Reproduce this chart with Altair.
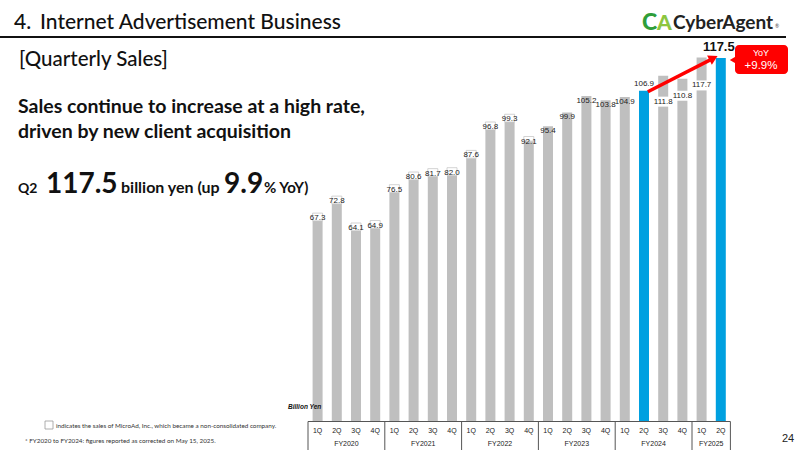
import altair as alt
import pandas as pd

# ---- data ----
quarters = ["1Q", "2Q", "3Q", "4Q", "1Q", "2Q", "3Q", "4Q", "1Q", "2Q", "3Q", "4Q",
            "1Q", "2Q", "3Q", "4Q", "1Q", "2Q", "3Q", "4Q", "1Q", "2Q"]
fiscal = ["FY2020"] * 4 + ["FY2021"] * 4 + ["FY2022"] * 4 + ["FY2023"] * 4 + ["FY2024"] * 4 + ["FY2025"] * 2
sales = [67.3, 72.8, 64.1, 64.9, 76.5, 80.6, 81.7, 82.0, 87.6, 96.8, 99.3, 92.1,
         95.4, 99.9, 105.2, 103.8, 104.9, 106.9, 111.8, 110.8, 117.7, 117.5]
microad = [2.5, 2.5, 2.5, 2.5, 2.5, 2.5, 2.5, 2.5, 2.5, 2.5, 2.5, 1.5,
           0, 0, 0, 0, 0, 0, 0, 0, 0, 0]
highlight = [False] * 17 + [True] + [False] * 3 + [True]

FONT = "Lato"
AX_FONT = "Liberation Sans"
GRAY = "#bfbfbf"
BLUE = "#00a0e0"
RED = "#ff0000"

n = len(sales)
df = pd.DataFrame({
    "i": list(range(n)),
    "q": quarters,
    "fy": fiscal,
    "v": sales,
    "m": microad,
    "hl": highlight,
})
df["base"] = df["v"] - df["m"]
df["lab"] = df["v"].map(lambda x: f"{x:.1f}")

xs = alt.Scale(domain=[-0.5, n - 0.5], range=[308, 730.4], nice=False, zero=False, padding=0)
ys = alt.Scale(domain=[0, 120], range=[421, 421 - 120 * 3.089], nice=False, padding=0)
X = alt.X("i:Q", scale=xs, axis=None)
Y = lambda f: alt.Y(f, scale=ys, axis=None)

# bars
bars = alt.Chart(df).mark_bar(size=10).encode(
    x=X,
    y=Y("base:Q"),
    y2=alt.datum(0),
    color=alt.condition("datum.hl", alt.value(BLUE), alt.value(GRAY)),
)
micro = alt.Chart(df[df["m"] > 0]).mark_bar(size=10, fill="white", stroke="#c8c8c8", strokeWidth=0.8).encode(
    x=X, y=Y("base:Q"), y2="v:Q"
)

# value labels
special = {18: 26, 19: 17, 20: 28}
normal_df = df[(~df["i"].isin(list(special.keys()))) & (~df["hl"])]
lab_normal = alt.Chart(normal_df).mark_text(font=AX_FONT, fontSize=8, color="#222", baseline="middle", dy=5).encode(
    x=X, y=Y("v:Q"), text="lab:N"
)
lab_blue = alt.Chart(df[df["i"] == 17]).mark_text(font=AX_FONT, fontSize=8, color="#222", baseline="middle", dy=-7).encode(
    x=X, y=Y("v:Q"), text="lab:N"
)
spec_layers = []
for k, off in special.items():
    d = df[df["i"] == k]
    spec_layers.append(alt.Chart(d).mark_rect(color="white", width=20, height=10, yOffset=off).encode(x=X, y=Y("v:Q")))
    spec_layers.append(alt.Chart(d).mark_text(font=AX_FONT, fontSize=8, color="#222", baseline="middle", dy=off).encode(
        x=X, y=Y("v:Q"), text="lab:N"))
lab_big = alt.Chart(df[df["i"] == n - 1]).mark_text(font=AX_FONT, fontSize=13, fontWeight="bold", color="#111", baseline="middle", dy=-11, dx=-2).encode(
    x=X, y=Y("v:Q"), text="lab:N"
)

# arrow
arr = pd.DataFrame({"x": [17.2], "y": [106.6], "x2": [20.45], "y2": [116.9]})
arrow_line = alt.Chart(arr).mark_rule(color=RED, strokeWidth=3.5).encode(
    x=alt.X("x:Q", scale=xs, axis=None), y=Y("y:Q"), x2="x2:Q", y2="y2:Q"
)
head = pd.DataFrame({"x": [20.62], "y": [117.5]})
arrow_head = alt.Chart(head).mark_point(shape="triangle-right", filled=True, color=RED, size=110, angle=333, opacity=1).encode(
    x=alt.X("x:Q", scale=xs, axis=None), y=Y("y:Q")
)

# x axis: line, quarter labels, FY labels, separators
axis_line = alt.Chart(pd.DataFrame({"a": [-0.5], "b": [n - 0.5]})).mark_rule(color="#555", strokeWidth=1).encode(
    x=alt.X("a:Q", scale=xs, axis=None), x2="b:Q", y=alt.value(421.5)
)
q_labels = alt.Chart(df).mark_text(font=AX_FONT, fontSize=7, color="#222", baseline="middle").encode(
    x=X, y=alt.value(431), text="q:N"
)
fy_df = df.groupby("fy", as_index=False).agg(c=("i", "mean"), s=("i", "min"), e=("i", "max"))
fy_labels = alt.Chart(fy_df).mark_text(font=AX_FONT, fontSize=7, color="#222", baseline="middle").encode(
    x=alt.X("c:Q", scale=xs, axis=None), y=alt.value(444), text="fy:N"
)
seps = pd.DataFrame({"p": [-0.5] + list(fy_df["e"] + 0.5)})
sep_rules = alt.Chart(seps).mark_rule(color="#555", strokeWidth=1).encode(
    x=alt.X("p:Q", scale=xs, axis=None), y=alt.value(421.5), y2=alt.value(451)
)


def txt(t, x, y, size, weight="normal", color="#111", font=FONT, align="left", style="normal"):
    return alt.Chart(pd.DataFrame({"t": [t]})).mark_text(
        font=font, fontSize=size, fontWeight=weight, color=color, align=align,
        baseline="alphabetic", fontStyle=style
    ).encode(x=alt.value(x), y=alt.value(y), text="t:N")


def box(x, x2, y, y2, fill, stroke=None, radius=0, sw=1):
    kw = dict(fill=fill, cornerRadius=radius)
    if stroke:
        kw.update(stroke=stroke, strokeWidth=sw)
    return alt.Chart(pd.DataFrame({"a": [0]})).mark_rect(**kw).encode(
        x=alt.value(x), x2=alt.value(x2), y=alt.value(y), y2=alt.value(y2)
    )


# header
title_n = txt("4.", 14, 29, 21, weight=500)
title = txt("Internet Advertisement Business", 40, 29, 21, weight=500)
header_line = alt.Chart(pd.DataFrame({"a": [0]})).mark_rule(color="#111", strokeWidth=2.2).encode(
    x=alt.value(0), x2=alt.value(786), y=alt.value(37)
)
logo_c = txt("C", 642, 30, 23, weight=900, color="#2f9e3a", font="Lato")
logo_a = txt("A", 657, 30, 21, weight=900, color="#8cc63f", font="Lato")
logo_t = txt("CyberAgent", 673, 29, 19, weight="bold", color="#222", font="Lato")
logo_r = txt("®", 775, 28, 5, color="#444", font="Lato")

subtitle = txt("[Quarterly Sales]", 19, 66, 20.5, weight=500)
head1 = txt("Sales continue to increase at a high rate,", 18, 113, 19.5, weight="bold")
head2 = txt("driven by new client acquisition", 18, 138, 19.5, weight="bold")
q2a = txt("Q2", 18, 193, 14, weight="bold")
q2b = txt("117.5", 46, 193, 28, weight="bold")
q2c = txt("billion yen (up", 121, 193, 16, weight="bold")
q2d = txt("9.9", 224, 193, 28, weight="bold")
q2e = txt("% YoY)", 264, 193, 15, weight="bold")

# YoY callout
yoy_box = box(735, 788, 45, 74, RED, radius=4)
yoy_ptr = alt.Chart(pd.DataFrame({"a": [0]})).mark_point(shape="triangle-left", filled=True, color=RED, size=55, opacity=1).encode(
    x=alt.value(733), y=alt.value(60)
)
yoy_t1 = txt("YoY", 761, 56, 9, color="white", font=AX_FONT, align="center")
yoy_t2 = txt("+9.9%", 761, 69, 11.5, color="white", font=AX_FONT, align="center")

unit = txt("Billion Yen", 288, 409, 6.5, weight="bold", font=AX_FONT, style="italic")
leg_box = box(45, 53, 421, 429, "white", stroke="#999", sw=0.8)
foot1 = txt("indicates the sales of MicroAd, Inc., which became a non-consolidated company.", 56, 428, 6.3, color="#333", font="Lato")
foot2 = txt("*  FY2020 to FY2024: figures reported as corrected on May 15, 2025.", 25, 443, 6.3, color="#333", font="Lato")
page = txt("24", 782, 442, 11, color="#222", font=AX_FONT)

chart = alt.layer(
    bars, micro, *spec_layers, lab_normal, lab_blue, arrow_line, arrow_head,
    axis_line, sep_rules, q_labels, fy_labels,
    title_n, title, header_line, logo_c, logo_a, logo_t, logo_r,
    subtitle, head1, head2, q2a, q2b, q2c, q2d, q2e,
    yoy_box, yoy_ptr, yoy_t1, yoy_t2, lab_big, unit, leg_box, foot1, foot2, page,
).properties(
    width=800, height=450, padding=0, autosize=alt.AutoSizeParams(type="none"),
    background="white",
).configure_view(stroke=None)

chart.save("out.html", embed_options={"renderer": "svg", "actions": False})
